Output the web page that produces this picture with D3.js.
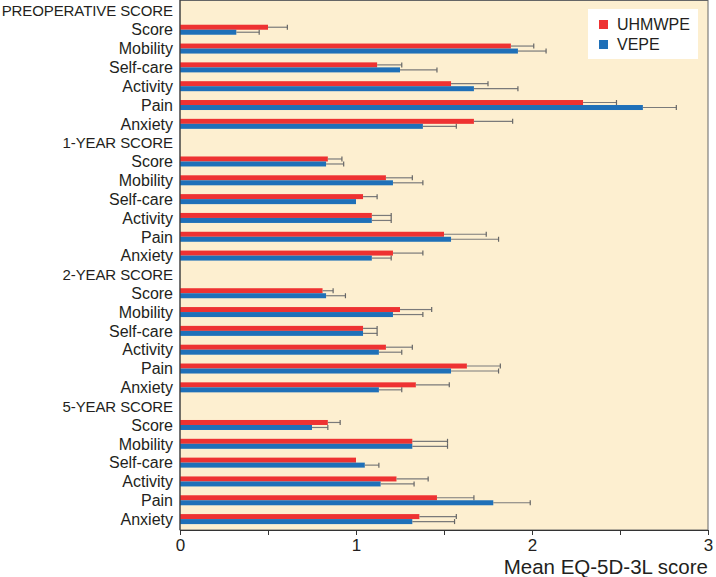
<!DOCTYPE html>
<html>
<head>
<meta charset="utf-8">
<script src="https://cdn.jsdelivr.net/npm/d3@7"></script>
<style>
  body { margin: 0; background: #fff; }
  text { font-family: "Liberation Sans", Arial, Helvetica, sans-serif; fill: #231f20; }
</style>
</head>
<body>
<script>
let width = 716, height = 577;

// row headings and items
const groups = ["PREOPERATIVE SCORE", "1-YEAR SCORE", "2-YEAR SCORE", "5-YEAR SCORE"];
const items = ["Score", "Mobility", "Self-care", "Activity", "Pain", "Anxiety"];
const seriesNames = ["UHMWPE", "VEPE"];
const colors = ["#ee3232", "#1f70b8"];
const xTicks = [0, 0.5, 1, 1.5, 2, 2.5, 3];

// means and upper error bar ends (per group, items in order above)
const uhmwpeMean = [
  [0.50, 1.88, 1.12, 1.54, 2.29, 1.67],
  [0.84, 1.17, 1.04, 1.09, 1.50, 1.21],
  [0.81, 1.25, 1.04, 1.17, 1.63, 1.34],
  [0.84, 1.32, 1.00, 1.23, 1.46, 1.36]
];
const uhmwpeErr = [
  [0.61, 2.01, 1.26, 1.75, 2.48, 1.89],
  [0.92, 1.32, 1.12, 1.20, 1.74, 1.38],
  [0.87, 1.43, 1.12, 1.32, 1.82, 1.53],
  [0.91, 1.52, 1.00, 1.41, 1.67, 1.57]
];
const vepeMean = [
  [0.32, 1.92, 1.25, 1.67, 2.63, 1.38],
  [0.83, 1.21, 1.00, 1.09, 1.54, 1.09],
  [0.83, 1.21, 1.04, 1.13, 1.54, 1.13],
  [0.75, 1.32, 1.05, 1.14, 1.78, 1.32]
];
const vepeErr = [
  [0.45, 2.08, 1.46, 1.92, 2.82, 1.57],
  [0.93, 1.38, 1.00, 1.20, 1.81, 1.20],
  [0.94, 1.38, 1.12, 1.26, 1.81, 1.26],
  [0.84, 1.52, 1.13, 1.33, 1.99, 1.56]
];

// flatten into rows
let rows = [];
groups.forEach((g, gi) => {
  rows.push({id: "h" + gi, label: g, header: true});
  items.forEach((it, ii) => {
    rows.push({
      id: gi + "-" + ii, label: it, header: false,
      values: [
        {s: 0, mean: uhmwpeMean[gi][ii], hi: uhmwpeErr[gi][ii]},
        {s: 1, mean: vepeMean[gi][ii], hi: vepeErr[gi][ii]}
      ]
    });
  });
});

let plotH = 530;

let svg = d3.select("body").append("svg")
    .attr("width", width)
    .attr("height", height);

let x = d3.scaleLinear().domain([0, 3]).range([180, 708]);
let y = d3.scaleBand().domain(rows.map(d => d.id)).range([1.5, 528.5]);
let barH = 5;

// background
svg.append("rect")
    .attr("x", x(0)).attr("y", 0.5)
    .attr("width", x(3) - x(0)).attr("height", plotH - 0.5)
    .attr("fill", "#fdefd0")
    .attr("stroke", "#666")
    .attr("stroke-width", 1);

// row labels
svg.selectAll("text.rowlabel").data(rows).enter().append("text")
    .attr("class", "rowlabel")
    .attr("x", 173)
    .attr("y", d => y(d.id) + y.bandwidth() / 2)
    .attr("dy", "0.36em")
    .attr("text-anchor", "end")
    .style("font-size", d => d.header ? "15px" : "16px")
    .style("letter-spacing", d => d.header ? "-0.1px" : null)
    .text(d => d.label);

let dataRows = rows.filter(d => !d.header);
let rowG = svg.selectAll("g.row").data(dataRows).enter().append("g")
    .attr("class", "row")
    .attr("transform", d => "translate(0," + (y(d.id) + y.bandwidth() / 2) + ")");

let pts = rowG.selectAll("g.pt").data(d => d.values).enter().append("g")
    .attr("class", "pt");

pts.append("rect")
    .attr("x", x(0))
    .attr("y", d => d.s === 0 ? -barH : 0)
    .attr("width", d => x(d.mean) - x(0))
    .attr("height", barH)
    .attr("fill", d => colors[d.s]);

let errs = pts.filter(d => d.hi > d.mean + 0.001);
errs.append("line")
    .attr("x1", d => x(d.mean)).attr("x2", d => x(d.hi))
    .attr("y1", d => d.s === 0 ? -barH / 2 : barH / 2)
    .attr("y2", d => d.s === 0 ? -barH / 2 : barH / 2)
    .attr("stroke", "#7a7a7a").attr("stroke-width", 1.2);
errs.append("line")
    .attr("x1", d => x(d.hi)).attr("x2", d => x(d.hi))
    .attr("y1", d => d.s === 0 ? -barH : 0)
    .attr("y2", d => d.s === 0 ? 0 : barH)
    .attr("stroke", "#666").attr("stroke-width", 1.2);

// x axis
let xAxis = d3.axisBottom(x)
    .tickValues(xTicks)
    .tickSize(5)
    .tickFormat(d => Number.isInteger(d) ? d : "");
let gx = svg.append("g")
    .attr("transform", "translate(0," + plotH + ")")
    .call(xAxis);
gx.select(".domain").attr("stroke", "#333");
gx.selectAll(".tick line").attr("stroke", "#333");
gx.selectAll(".tick text")
    .style("font-size", "17px")
    .style("font-family", "Liberation Sans, Arial, sans-serif")
    .attr("fill", "#231f20")
    .attr("y", 8.5);

svg.append("line")
    .attr("x1", x(0)).attr("x2", x(0))
    .attr("y1", 0).attr("y2", plotH)
    .attr("stroke", "#333");

svg.append("text")
    .attr("x", x(3))
    .attr("y", 574)
    .attr("text-anchor", "end")
    .style("font-size", "20.5px")
    .text("Mean EQ-5D-3L score");

// legend
let leg = svg.append("g").attr("transform", "translate(588,9)");
leg.append("rect")
    .attr("width", 110).attr("height", 50)
    .attr("fill", "#fff");
seriesNames.forEach((s, i) => {
  leg.append("rect")
      .attr("x", 11).attr("y", 11 + i * 20)
      .attr("width", 9).attr("height", 9)
      .attr("fill", colors[i]);
  leg.append("text")
      .attr("x", 29).attr("y", 15.5 + i * 20)
      .attr("dy", "0.36em")
      .style("font-size", "16px")
      .text(s);
});
</script>
</body>
</html>
